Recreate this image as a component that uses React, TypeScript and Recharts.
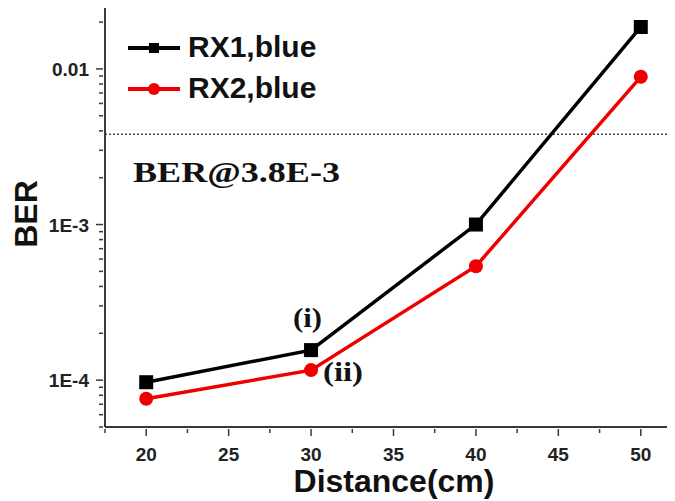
import React from "react";
import { LineChart, Line, XAxis, YAxis, ReferenceLine } from "recharts";

const distances = [20, 30, 40, 50];
const rx1Ber = [9.7e-5, 1.56e-4, 1.0e-3, 1.86e-2];
const rx2Ber = [7.6e-5, 1.16e-4, 5.4e-4, 8.9e-3];
const berLimit = 3.8e-3;

const xMajorTicks = [20, 25, 30, 35, 40, 45, 50];
const xMinorTicks = [17.5, 22.5, 27.5, 32.5, 37.5, 42.5, 47.5, 52.5];

const yMajorTicks = [1e-4, 1e-3, 1e-2];
const yMajorLabels = ["1E-4", "1E-3", "0.01"];
const yMinorTicks = [
  5e-5, 6e-5, 7e-5, 8e-5, 9e-5,
  2e-4, 3e-4, 4e-4, 5e-4, 6e-4, 7e-4, 8e-4, 9e-4,
  2e-3, 3e-3, 4e-3, 5e-3, 6e-3, 7e-3, 8e-3, 9e-3,
  2e-2,
];

const data = distances.map((d, i) => ({ d, rx1: rx1Ber[i], rx2: rx2Ber[i] }));

const AXIS = "#3a3a3a";
const SANS = "'Liberation Sans', Arial, sans-serif";
const SERIF = "'Liberation Serif', 'Times New Roman', serif";

const isMajor = (v: number, list: number[]) =>
  list.findIndex((m) => Math.abs(m - v) / m < 1e-6);

function XTick({ x, y, payload }: any) {
  const major = isMajor(payload.value, xMajorTicks) >= 0;
  return (
    <g>
      <line x1={x} x2={x} y1={y} y2={y + (major ? 7 : 4)} stroke={AXIS} strokeWidth={1.5} />
      {major && (
        <text x={x} y={y + 32} textAnchor="middle" fontFamily={SANS} fontWeight="bold" fontSize={19} fill="#222">
          {payload.value}
        </text>
      )}
    </g>
  );
}

function YTick({ x, y, payload }: any) {
  const idx = isMajor(payload.value, yMajorTicks);
  const major = idx >= 0;
  return (
    <g>
      <line x1={x} x2={x - (major ? 7 : 4)} y1={y} y2={y} stroke={AXIS} strokeWidth={1.5} />
      {major && (
        <text x={x - 14} y={y + 7} textAnchor="end" fontFamily={SANS} fontWeight="bold" fontSize={19} fill="#222">
          {yMajorLabels[idx]}
        </text>
      )}
    </g>
  );
}

const squareDot = (props: any) => {
  const { cx, cy, index } = props;
  return <rect key={`sq-${index}`} x={cx - 7} y={cy - 7} width={14} height={14} fill="#000" />;
};

const circleDot = (props: any) => {
  const { cx, cy, index } = props;
  return <circle key={`ci-${index}`} cx={cx} cy={cy} r={7} fill="#ee0000" />;
};

export default function App() {
  return (
    <div style={{ position: "relative", width: 675, height: 501, margin: "-8px 0 0 -8px", overflow: "hidden", background: "#fff" }}>
      <LineChart width={690} height={501} data={data} margin={{ top: 7, right: 8, bottom: 34, left: 15 }}>
        <XAxis
          dataKey="d"
          type="number"
          domain={[17.5, 52.5]}
          ticks={[...xMinorTicks, ...xMajorTicks].sort((a, b) => a - b)}
          tick={<XTick />}
          tickSize={0}
          tickLine={false}
          height={40}
          axisLine={{ stroke: AXIS, strokeWidth: 2 }}
          interval={0}
          allowDataOverflow
        />
        <YAxis
          type="number"
          scale="log"
          domain={[5e-5, 0.025]}
          ticks={[...yMinorTicks, ...yMajorTicks].sort((a, b) => a - b)}
          tick={<YTick />}
          tickSize={0}
          tickLine={false}
          width={90}
          axisLine={{ stroke: AXIS, strokeWidth: 2 }}
          interval={0}
          allowDataOverflow
        />
        <ReferenceLine y={berLimit} stroke="#444" strokeWidth={1.5} strokeDasharray="2 2" />
        <Line dataKey="rx1" stroke="#000" strokeWidth={3.5} dot={squareDot} isAnimationActive={false} />
        <Line dataKey="rx2" stroke="#ee0000" strokeWidth={3.5} dot={circleDot} isAnimationActive={false} />
      </LineChart>
      <svg width={675} height={501} style={{ position: "absolute", left: 0, top: 0, pointerEvents: "none" }}>
        <rect x={0} y={0} width={675} height={3} fill="#d4d4d4" />
        <line x1={128} x2={180} y1={48} y2={48} stroke="#000" strokeWidth={4} />
        <rect x={149} y={43} width={10} height={10} fill="#000" />
        <text x={188} y={57} fontFamily={SANS} fontWeight="bold" fontSize={30} fill="#111">RX1,blue</text>
        <line x1={128} x2={180} y1={89} y2={89} stroke="#ee0000" strokeWidth={4} />
        <circle cx={154} cy={89} r={6} fill="#ee0000" />
        <text x={188} y={98} fontFamily={SANS} fontWeight="bold" fontSize={30} fill="#111">RX2,blue</text>
        <text x={133} y={182} fontFamily={SERIF} fontWeight="bold" fontSize={29} fill="#111" textLength={207} lengthAdjust="spacingAndGlyphs">BER@3.8E-3</text>
        <text x={293} y={327} fontFamily={SERIF} fontWeight="bold" fontSize={28} fill="#111" textLength={29} lengthAdjust="spacingAndGlyphs">(i)</text>
        <text x={323} y={381} fontFamily={SERIF} fontWeight="bold" fontSize={28} fill="#111" textLength={40} lengthAdjust="spacingAndGlyphs">(ii)</text>
        <text x={394} y={492} textAnchor="middle" fontFamily={SANS} fontWeight="bold" fontSize={32} fill="#111">Distance(cm)</text>
        <text transform="translate(37,214) rotate(-90)" textAnchor="middle" fontFamily={SANS} fontWeight="bold" fontSize={32} fill="#111">BER</text>
      </svg>
    </div>
  );
}
